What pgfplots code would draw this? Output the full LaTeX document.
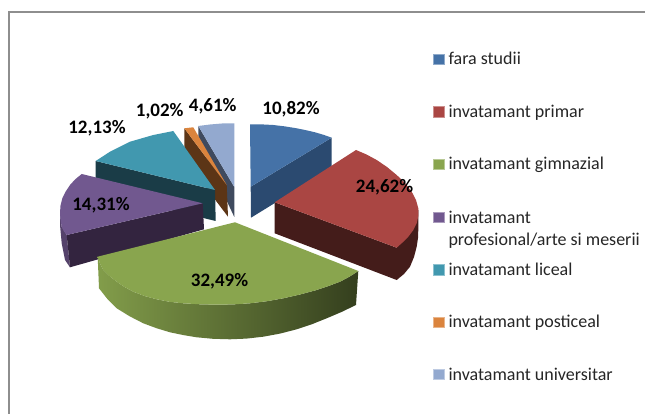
\documentclass[border=0pt]{standalone}
\usepackage{pgfplots}
\pgfplotsset{compat=1.18}
\usepackage{fontspec}
\setmainfont{Carlito}
\definecolor{cblue}{HTML}{4572A7}
\definecolor{cred}{HTML}{AA4643}
\definecolor{cgreen}{HTML}{89A54E}
\definecolor{cpurple}{HTML}{71588F}
\definecolor{cteal}{HTML}{4198AF}
\definecolor{corange}{HTML}{DB843D}
\definecolor{clilac}{HTML}{93A9CF}
\definecolor{fblue}{HTML}{2B4A70}
\definecolor{fred}{HTML}{441C1A}
\definecolor{fpurple}{HTML}{33243F}
\definecolor{fteal}{HTML}{1A3C47}
\definecolor{forange}{HTML}{5C3516}
\definecolor{flilac}{HTML}{3F4A5E}
\definecolor{frame}{HTML}{8E8E8E}
\newcommand{\lab}[2]{\node[font=\fontsize{19}{22}\selectfont\bfseries,text=black,anchor=center,inner sep=0pt] at (axis cs:#1) {#2};}
\newcommand{\leg}[2]{\node[font=\fontsize{18}{22}\selectfont,text=black!85,anchor=base west,inner sep=0pt] at (axis cs:#1) {#2};}
\begin{document}
\begin{tikzpicture}
\begin{axis}[width=645pt,height=414pt,scale only axis,xmin=0,xmax=645,ymin=0,ymax=414,y dir=reverse,hide axis,clip=true,no markers]
% background
\addplot[draw=none,fill=white] coordinates {(0,0)(645,0)(645,414)(0,414)} --cycle;
% frame
\addplot[draw=frame,line width=1.9pt] coordinates {(645,12.3)(8.7,12.3)(8.7,414)};
% lilac slice
\addplot[draw=none,fill=flilac] coordinates {(198.3,126)(198.3,140)(234.3,217)(234.3,187)} --cycle;
\addplot[draw=none,fill=clilac] coordinates {(198.3,126)(210,124.5)(222,123.5)(234.3,123.3)(234.3,187)} --cycle;
% orange slice
\addplot[draw=none,fill=forange] coordinates {(184.3,128.3)(184.3,159)(228,216.7)(226.7,185)} --cycle;
\addplot[draw=none,fill=corange] coordinates {(184.3,128.3)(193.3,127.3)(226.7,185)} --cycle;
% teal slice
\addplot[draw=none,fill=fteal] coordinates {(215,190)(215.7,221)(95.7,192)(95.7,161)} --cycle;
\addplot[draw=none,fill=cteal] coordinates {(215,190)(173.3,131)(153.3,135)(130,141.7)(110,151.7)(95.7,161)} --cycle;
% purple slice
\addplot[draw=none,fill=cpurple!75!black] coordinates {(60,213.3)(61.7,226.7)(66.7,235)(70,267.3)(65,260)(61.7,243.3)(60,225)} --cycle;
\addplot[draw=none,fill=fpurple] coordinates {(202.7,203.3)(204,229.3)(70,267.3)(66.7,235)} --cycle;
\addplot[draw=none,fill=cpurple] coordinates {(202.7,203.3)(81.7,174)(75,179.5)(70,185)(65.7,191.5)(62.3,198.3)(60.5,205.5)(60,213.3)(60.5,220)(61.7,226.7)(63.7,231)(66.7,235)} --cycle;
% blue slice
\addplot[draw=none,fill=fblue] coordinates {(250.7,186.7)(331.7,137.7)(331.7,168)(251,217.7)} --cycle;
\addplot[draw=none,fill=cblue] coordinates {(250.7,186.7)(250,124.3)(262,124.4)(273.3,125)(285,126.4)(296.7,128.3)(306,130.2)(315,132.3)(323.5,134.8)(331.7,137.7)} --cycle;
% red slice
\addplot[draw=none,fill=fred] coordinates {(274.7,202.3)(274.7,233.3)(396.7,280)(404,274)(410,266.7)(414,257)(416.7,246.7)(418,238)(418.3,230)(418.3,210)(396.7,247.7)} --cycle;
\addplot[draw=none,fill=cred] coordinates {(274.7,202.3)(356,150)(366.5,154.5)(376.7,160)(387,167)(396.7,175)(405,183)(411.7,191.7)(416,200)(418.3,208.3)(418.3,216)(416.7,223.3)(413,230.5)(408.3,236.7)(402.5,242.5)(396.7,247.7)} --cycle;
% green slice
\addplot[draw=none,left color=cgreen!95!black,middle color=cgreen!60!black,right color=cgreen!38!black] coordinates {(97.7,256.7)(100,263.5)(103.3,270)(109.5,276)(116.7,281.7)(124.5,287)(133.3,291.7)(144.5,296)(156.7,299.3)(169.5,301.8)(183.3,303.3)(200,304.3)(216.7,304.7)(233,304.4)(250,303.3)(267,301.2)(283.3,298.3)(300,294.5)(316.7,290)(328.5,286)(340,281.7)(349.5,276.7)(358.3,271)(356,305)(341.5,312)(326.7,318.3)(312,324.2)(296.7,329.3)(280,333.6)(263.3,336.7)(246.5,338.6)(230,339.3)(213,338.8)(196.7,337.3)(183,335)(170,332.3)(156.5,328.2)(143.3,323.3)(129.5,316.2)(116.7,308.3)(107,298.5)(99,288.3)} --cycle;
\addplot[draw=none,fill=cgreen] coordinates {(235,222.3)(97.7,256.7)(100,263.5)(103.3,270)(109.5,276)(116.7,281.7)(124.5,287)(133.3,291.7)(144.5,296)(156.7,299.3)(169.5,301.8)(183.3,303.3)(200,304.3)(216.7,304.7)(233,304.4)(250,303.3)(267,301.2)(283.3,298.3)(300,294.5)(316.7,290)(328.5,286)(340,281.7)(349.5,276.7)(358.3,271)} --cycle;
% legend swatches
\addplot[draw=cblue!60!white,fill=cblue,line width=.5pt] coordinates {(433.5,54)(444,54)(444,64.5)(433.5,64.5)} --cycle;
\addplot[draw=cred!60!white,fill=cred,line width=.5pt] coordinates {(433.5,106.7)(444,106.7)(444,117.2)(433.5,117.2)} --cycle;
\addplot[draw=cgreen!60!white,fill=cgreen,line width=.5pt] coordinates {(433.5,159)(444,159)(444,169.5)(433.5,169.5)} --cycle;
\addplot[draw=cpurple!60!white,fill=cpurple,line width=.5pt] coordinates {(433.5,212)(444,212)(444,222.5)(433.5,222.5)} --cycle;
\addplot[draw=cteal!60!white,fill=cteal,line width=.5pt] coordinates {(433.5,264.5)(444,264.5)(444,275)(433.5,275)} --cycle;
\addplot[draw=corange!60!white,fill=corange,line width=.5pt] coordinates {(433.5,316.8)(444,316.8)(444,327.3)(433.5,327.3)} --cycle;
\addplot[draw=clilac!60!white,fill=clilac,line width=.5pt] coordinates {(433.5,369)(444,369)(444,379.5)(433.5,379.5)} --cycle;
% data labels
\lab{291,109.5}{10,82\%}
\lab{384.5,187.5}{24,62\%}
\lab{219.5,281.5}{32,49\%}
\lab{101,205}{14,31\%}
\lab{97,128}{12,13\%}
\lab{159.7,111}{1,02\%}
\lab{212.7,106}{4,61\%}
% legend text
\leg{448.3,65}{fara studii}
\leg{448.3,117.7}{invatamant primar}
\leg{448.3,170}{invatamant gimnazial}
\leg{448.3,223}{invatamant}
\leg{448.3,245}{profesional/arte si meserii}
\leg{448.3,275.4}{invatamant liceal}
\leg{448.3,327.7}{invatamant posticeal}
\leg{448.3,380}{invatamant universitar}
\end{axis}
\end{tikzpicture}
\end{document}
